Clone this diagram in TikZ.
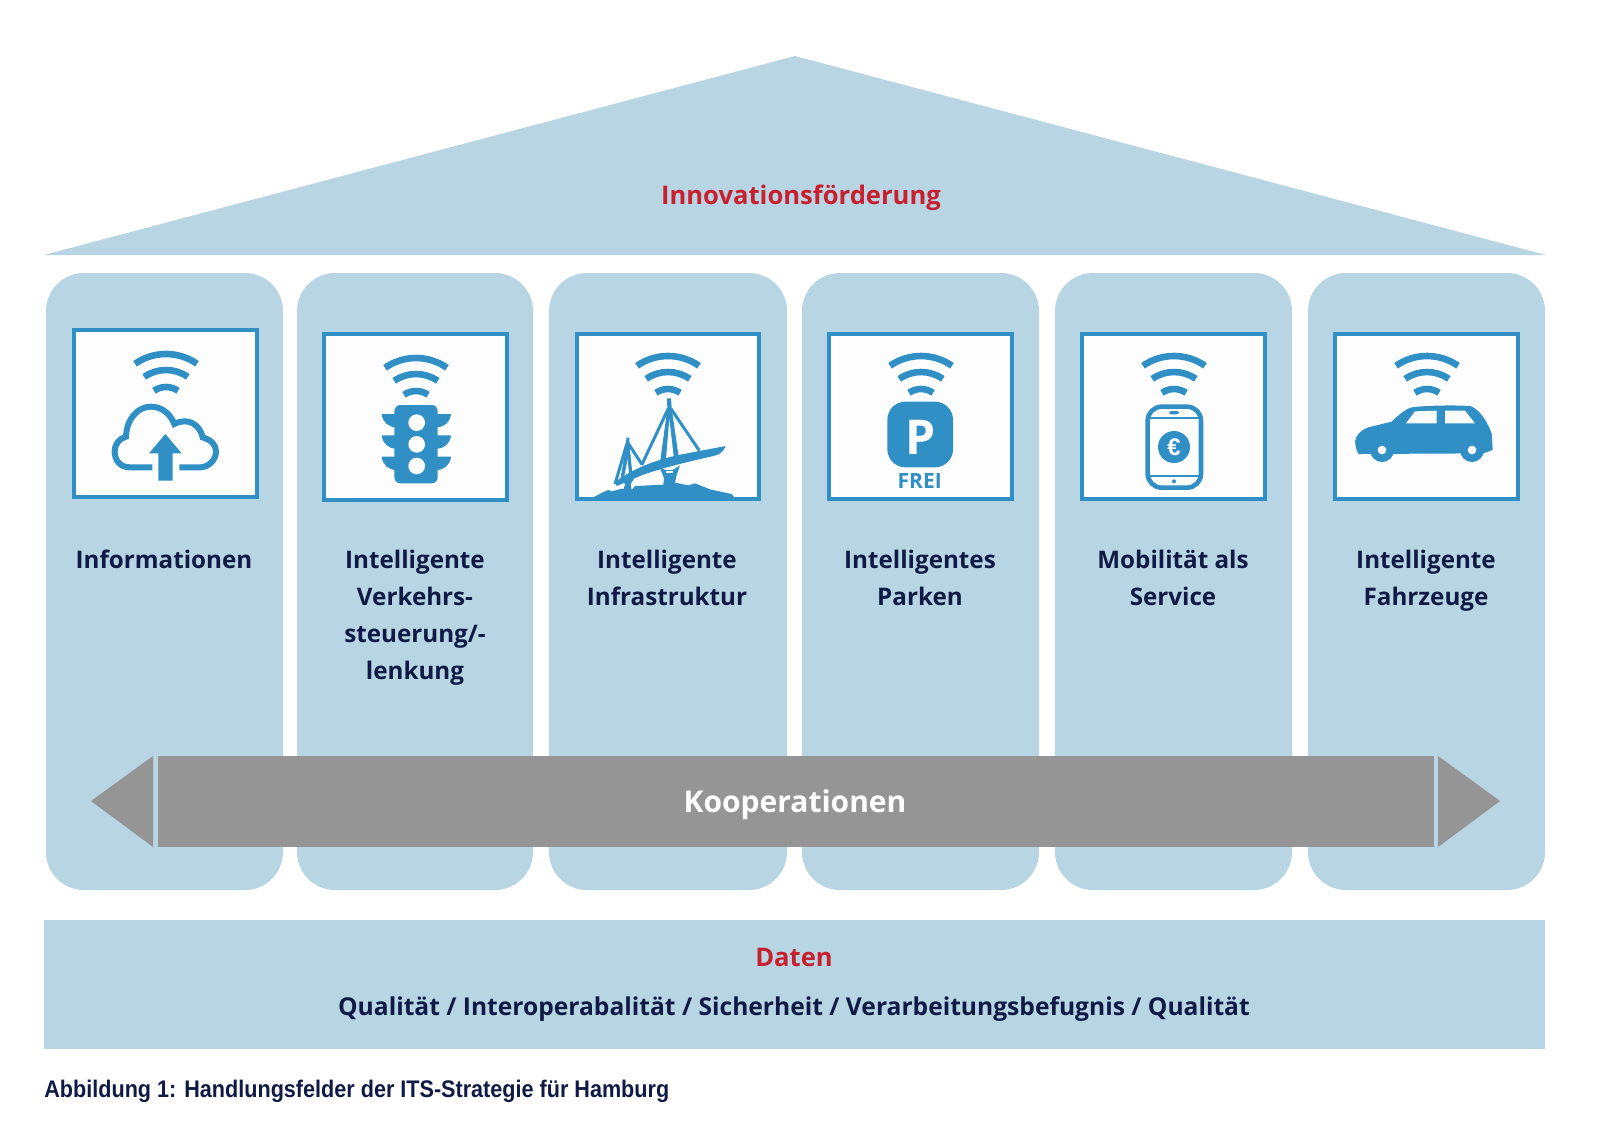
\documentclass[tikz,border=0pt]{standalone}
\usepackage{fontspec}
\setmainfont{Open Sans}
\newfontfamily\capfont[FakeStretch=0.9]{Liberation Sans}
\newfontfamily\heavyfont{Liberation Sans}
\definecolor{pale}{HTML}{B7D5E3}
\definecolor{iconblue}{HTML}{3090C6}
\definecolor{arrowgray}{HTML}{959595}
\definecolor{inkblue}{HTML}{0F1B45}
\definecolor{accent}{HTML}{C8202E}
\definecolor{boxwhite}{HTML}{FEFDFE}
\tikzset{
  pillar/.style={fill=pale,rounded corners=19pt},
  iconbox/.style={draw=iconblue,fill=boxwhite,line width=2.4pt},
  lab/.style={font=\bfseries\fontsize{12.1}{18.5}\selectfont,text=inkblue,align=center,inner sep=0pt},
  head/.style={font=\bfseries\fontsize{12.8}{16}\selectfont,text=accent,inner sep=0pt},
  iconfill/.style={fill=iconblue,draw=none},
  zoomA/.style={shift={(60,310)},x=0.16667pt,y=-0.16667pt},
  zoomB/.style={shift={(560,310)},x=0.16667pt,y=-0.16667pt},
  zoomC/.style={shift={(1060,310)},x=0.16667pt,y=-0.16667pt},
}
\newcommand{\wifisign}[2]{%
  \draw[iconblue,line width=3.3pt] (#1,#2) ++(-125:54) arc[start angle=-125,end angle=-55,radius=54];
  \draw[iconblue,line width=3.3pt] (#1,#2) ++(-125:38) arc[start angle=-125,end angle=-55,radius=38];
  \draw[iconblue,line width=3.3pt] (#1,#2) ++(-125:21) arc[start angle=-125,end angle=-55,radius=21];
}
\begin{document}
\begin{tikzpicture}[x=0.5pt,y=-0.5pt]
\useasboundingbox (0,0) rectangle (1600,1137);
\fill[white] (0,0) rectangle (1600,1137);
% roof
\fill[pale] (795,56) -- (1546,255) -- (44,255) -- cycle;
\node[head] (roof) at (801,198) {Innovationsförderung};
% pillars
\fill[pillar] (46,273) rectangle (283,890);
\fill[pillar] (297,273) rectangle (533,890);
\fill[pillar] (549,273) rectangle (787,890);
\fill[pillar] (802,273) rectangle (1039,890);
\fill[pillar] (1055,273) rectangle (1292,890);
\fill[pillar] (1308,273) rectangle (1545,890);
% icon boxes
\draw[iconbox] (74,330) rectangle (257,497);
\draw[iconbox] (324,334) rectangle (507,500);
\draw[iconbox] (577,334) rectangle (759,499);
\draw[iconbox] (829,334) rectangle (1012,499);
\draw[iconbox] (1082,334) rectangle (1265,499);
\draw[iconbox] (1335,334) rectangle (1518,499);
\wifisign{166}{408}
\wifisign{416}{412}
\wifisign{668}{410}
\wifisign{921}{410}
\wifisign{1174}{410}
\wifisign{1427}{410}
% cloud
\begin{scope}[zoomA]
\draw[iconblue,line width=3pt] (277,472) -- (210,472) .. controls (180,472) and (164,450) .. (164,425) .. controls (164,400) and (180,385) .. (198,380) .. controls (200,325) and (235,290) .. (272,290) .. controls (305,290) and (330,310) .. (343,342) .. controls (385,320) and (420,345) .. (428,382) .. controls (455,390) and (468,405) .. (468,425) .. controls (468,450) and (445,472) .. (420,472) -- (358,472);
\fill[iconfill] (295,512) -- (338,512) -- (338,430) -- (365,430) -- (316,372) -- (267,430) -- (295,430) -- cycle;
% traffic light
\fill[iconfill,rounded corners=3pt] (1003,285) rectangle (1133,520);
\foreach \yy in {312,376,440}{
  \fill[iconfill] (965,\yy) -- (1010,\yy) -- (1010,\yy+40) .. controls (985,\yy+40) and (968,\yy+25) .. (965,\yy) -- cycle;
  \fill[iconfill] (1173,\yy) -- (1128,\yy) -- (1128,\yy+40) .. controls (1153,\yy+40) and (1170,\yy+25) .. (1173,\yy) -- cycle;
}
\fill[boxwhite] (1070,338) circle[radius=25];
\fill[boxwhite] (1070,403) circle[radius=25];
\fill[boxwhite] (1070,468) circle[radius=25];
\end{scope}
% bridge and parking
\begin{scope}[zoomB]
\fill[iconfill] (165,516) .. controls (230,468) and (300,448) .. (350,436) -- (497,408) .. controls (490,425) and (480,434) .. (460,438) .. controls (380,456) and (290,478) .. (240,498) .. controls (210,510) and (190,520) .. (170,528) -- cycle;
\fill[iconfill] (44,572) -- (100,562) -- (130,546) -- (145,540) -- (155,544) -- (185,536) -- (215,540) -- (225,528) -- (310,524) -- (312,505) -- (300,474) -- (318,480) -- (338,480) -- (360,466) -- (350,495) -- (345,518) -- (385,526) -- (405,520) -- (450,538) -- (515,552) -- (530,572) -- cycle;
\draw[boxwhite,line width=1pt] (318,487) -- (338,487);
\fill[iconfill] (321,265) -- (333,265) -- (335,295) -- (356,440) -- (342,446) -- (328,325) -- (318,446) -- (301,452) -- (322,295) -- cycle;
\draw[iconblue,line width=1.5pt] (325,295) -- (245,465) (332,295) -- (418,422);
\fill[iconfill] (199,383) -- (208,383) -- (209,410) -- (219,510) -- (209,514) -- (203,445) -- (189,520) -- (179,520) -- (198,410) -- cycle;
\draw[iconblue,line width=1.5pt] (201,400) -- (165,522) (206,402) -- (245,462);
\fill[iconfill] (190,510) -- (222,506) -- (212,522) -- (216,545) -- (188,545) -- (195,525) -- cycle;
\fill[iconfill,rounded corners=9pt] (982,275) rectangle (1179,472);
\node[font=\bfseries\fontsize{24}{24}\selectfont,text=boxwhite,inner sep=0pt] (parkP) at (1081,381) {P};
\node[font=\bfseries\fontsize{10.5}{11}\selectfont,text=iconblue,inner sep=0pt] (frei) at (1079,513) {FREI};
\end{scope}
% phone and car
\begin{scope}[zoomC]
\draw[iconblue,line width=2.3pt,rounded corners=7pt] (263,290) rectangle (423,533);
\draw[iconblue,line width=1.1pt] (263,323) -- (423,323) (263,497) -- (423,497);
\fill[iconfill,rounded corners=1.2pt] (327,303) rectangle (357,313);
\fill[iconfill] (342,514) circle[radius=6];
\fill[iconfill] (342,411) circle[radius=48];
\node[font=\heavyfont\bfseries\fontsize{12}{12}\selectfont,text=boxwhite,inner sep=0pt] (euro) at (342,413) {€};
\fill[iconfill] (885,395) .. controls (888,375) and (900,362) .. (925,352) -- (995,335) .. controls (1015,315) and (1035,298) .. (1055,292) .. controls (1100,286) and (1190,285) .. (1230,288) .. controls (1255,295) and (1280,330) .. (1295,370) -- (1298,420) -- (1270,430) -- (895,432) -- (888,415) -- cycle;
\fill[iconfill] (966,420) circle[radius=36];
\fill[iconfill] (1236,420) circle[radius=36];
\fill[boxwhite] (966,420) circle[radius=13];
\fill[boxwhite] (1236,420) circle[radius=13];
\fill[boxwhite] (1038,340) -- (1065,304) -- (1130,302) -- (1130,340) -- cycle;
\fill[boxwhite] (1155,302) -- (1215,302) -- (1245,340) -- (1155,340) -- cycle;
\end{scope}
% labels
\node[lab] (l1) at (164,559) {Informationen};
\node[lab] (l2) at (415,618) {Intelligente\\Verkehrs-\\steuerung/-\\lenkung};
\node[lab] (l3) at (667,578) {Intelligente\\Infrastruktur};
\node[lab] (l4) at (920,578) {Intelligentes\\Parken};
\node[lab] (l5) at (1173,578) {Mobilität als\\Service};
\node[lab] (l6) at (1426,581) {Intelligente\\Fahrzeuge};
% arrow
\fill[arrowgray] (158,756) rectangle (1434,847);
\fill[arrowgray] (91,801) -- (153,756) -- (153,847) -- cycle;
\fill[arrowgray] (1500,801) -- (1438,756) -- (1438,847) -- cycle;
\node[font=\bfseries\fontsize{15}{18}\selectfont,text=white,inner sep=0pt] (koop) at (795,805) {Kooperationen};
% data
\fill[pale] (44,920) rectangle (1545,1049);
\node[head] (daten) at (794,957) {Daten};
\node[font=\bfseries\fontsize{12.3}{18.5}\selectfont,text=inkblue,inner sep=0pt] (qual) at (794,1009) {Qualität / Interoperabalität / Sicherheit / Verarbeitungsbefugnis / Qualität};
% caption
\node[font=\capfont\bfseries\fontsize{12}{14}\selectfont,text=inkblue,anchor=west,inner sep=0pt] (cap) at (44,1091) {Abbildung 1: Handlungsfelder der ITS-Strategie für Hamburg};
\end{tikzpicture}
\end{document}
